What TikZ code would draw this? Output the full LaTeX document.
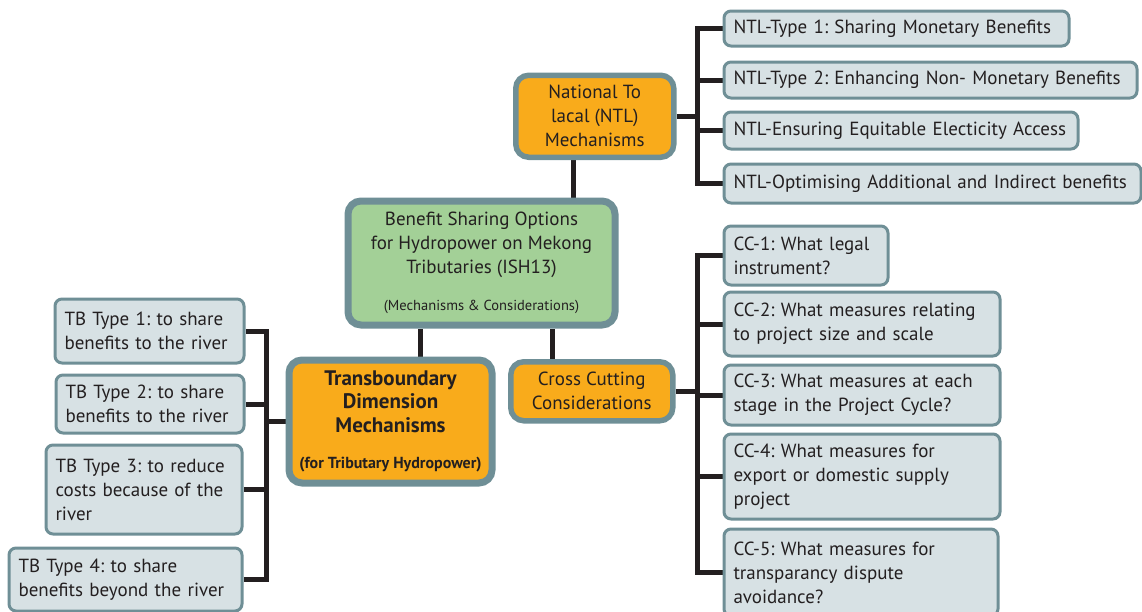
\documentclass[tikz,border=0pt]{standalone}
\usepackage{fontspec}
\setmainfont{PT Sans}
\usetikzlibrary{backgrounds}
\definecolor{mkorange}{HTML}{F9AB1B}
\definecolor{mkgreen}{HTML}{A3D097}
\definecolor{mkleaf}{HTML}{D7E1E4}
\definecolor{mkedge}{HTML}{6F8F96}
\definecolor{mkink}{HTML}{231F20}
\frenchspacing

\begin{document}
\begin{tikzpicture}[x=1pt,y=-1pt,
  hub/.style={draw=mkedge, line width=7pt, rounded corners=13pt, text=mkink,
    align=center, inner sep=0pt, anchor=north west, font=\fontsize{19}{24}\selectfont},
  leaf/.style={draw=mkedge, fill=mkleaf, line width=3pt, rounded corners=7pt, text=mkink,
    align=left, inner xsep=9.5pt, inner ysep=0pt, anchor=north west,
    font=\fontsize{19}{24}\selectfont},
  conn/.style={draw=mkink, line width=5pt}]
\useasboundingbox (0,0) rectangle (1142,611);

% central topic and its three branches
\node[hub, fill=mkgreen, minimum width=267pt, minimum height=124pt] (root) at (344.5,197.5)
  {Benefit Sharing Options\\for Hydropower on Mekong\\Tributaries (ISH13)\\[13pt]
   {\fontsize{14.5}{16}\selectfont(Mechanisms \& Considerations)}};
\node[hub, fill=mkorange, line width=5.5pt, minimum width=158pt, minimum height=82pt] (ntl) at (513,72.5)
  {National To\\lacal (NTL)\\Mechanisms};
\node[hub, fill=mkorange, minimum width=203pt, minimum height=123pt, font=\fontsize{21}{23.5}\selectfont\bfseries] (tb) at (285.5,356.5)
  {Transboundary\\Dimension\\Mechanisms\\[13pt]{\fontsize{16}{17}\selectfont(for Tributary Hydropower)}};
\node[hub, fill=mkorange, line width=5.5pt, minimum width=162pt, minimum height=59pt] (cc) at (508,359)
  {Cross Cutting\\Considerations};

% NTL types
\node[leaf, text width=326pt, minimum height=35pt] (n1) at (722.5,9.5) {NTL-Type 1: Sharing Monetary Benefits};
\node[leaf, text width=394pt, minimum height=36pt] (n2) at (722.5,60.5) {NTL-Type 2: Enhancing Non- Monetary Benefits};
\node[leaf, text width=335pt, minimum height=37pt] (n3) at (722.5,110.5) {NTL-Ensuring Equitable Electicity Access};
\node[leaf, text width=398pt, minimum height=39pt] (n4) at (722.5,162.5) {NTL-Optimising Additional and Indirect benefits};

% cross cutting questions
\node[leaf, text width=145pt, minimum height=59pt] (c1) at (722.5,224.5) {CC-1: What legal\\instrument?};
\node[leaf, text width=257pt, minimum height=64pt] (c2) at (722.5,290.5) {CC-2: What measures relating\\to project size and scale};
\node[leaf, text width=257pt, minimum height=60pt] (c3) at (722.5,363.5) {CC-3: What measures at each\\stage in the Project Cycle?};
\node[leaf, text width=257pt, minimum height=85pt] (c4) at (722.5,432.5) {CC-4: What measures for\\export or domestic supply\\project};
\node[leaf, text width=255pt, minimum height=87pt] (c5) at (722.5,527.5) {CC-5: What measures for\\transparancy dispute\\avoidance?};

% transboundary types
\node[leaf, text width=170pt, minimum height=64pt] (t1) at (53.5,297.5) {TB Type 1: to share\\benefits to the river};
\node[leaf, text width=169pt, minimum height=58pt] (t2) at (54.5,373.5) {TB Type 2: to share\\benefits to the river};
\node[leaf, text width=177pt, minimum height=89pt] (t3) at (44.5,443.5) {TB Type 3: to reduce\\costs because of the\\river};
\node[leaf, text width=214pt, minimum height=63pt] (t4) at (7.5,546.5) {TB Type 4: to share\\benefits beyond the river};

% connectors
\begin{scope}[on background layer]
\draw[conn] ([xshift=60pt]ntl.south west) coordinate (a) -- (a |- root.north);
\draw[conn] ([xshift=134.5pt]tb.north west) coordinate (b) -- (b |- root.south);
\draw[conn] ([xshift=44pt]cc.north west) coordinate (c) -- (c |- root.south);
\draw[conn] (ntl.east) -- ++(21,0) coordinate (ntlbus);
\foreach \i in {1,...,4} \draw[conn] (ntlbus) |- (n\i.west);
\draw[conn] (cc.east) -- ++(22,0) coordinate (ccbus);
\foreach \i in {1,...,5} \draw[conn] (ccbus) |- (c\i.west);
\draw[conn] (tb.west) -- ++(-19.5,0) coordinate (tbbus);
\foreach \i in {1,...,4} \draw[conn] (tbbus) |- (t\i.east);
\end{scope}
\end{tikzpicture}
\end{document}
